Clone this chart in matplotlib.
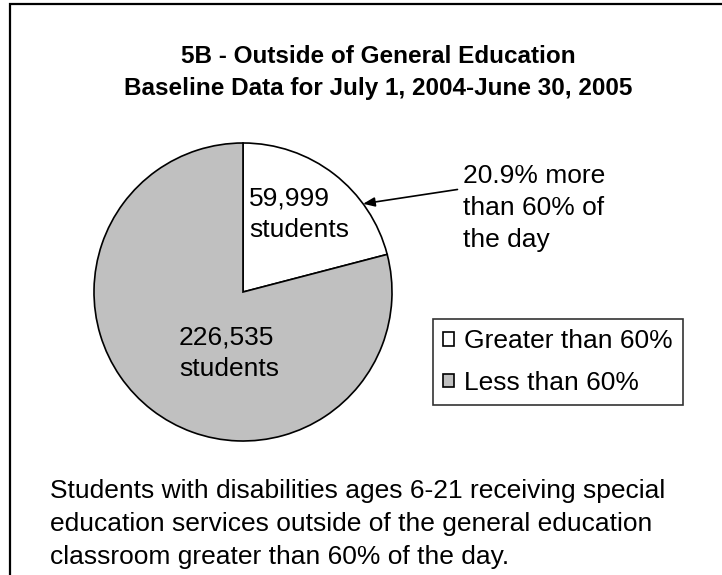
import numpy as np
import matplotlib
matplotlib.use("Agg")
from matplotlib import pyplot as plt
from matplotlib.patches import Rectangle

# data
categories = ["Greater than 60%", "Less than 60%"]
students = [59999, 226535]
colors = ["white", "#C0C0C0"]
slice_labels = ["59,999\nstudents", "226,535\nstudents"]
title_lines = ["5B - Outside of General Education",
               "Baseline Data for July 1, 2004-June 30, 2005"]
callout = "20.9% more\nthan 60% of\nthe day"
footnote = ("Students with disabilities ages 6-21 receiving special\n"
            "education services outside of the general education\n"
            "classroom greater than 60% of the day.")

W, H = 722, 575
plt.rcParams["font.family"] = ["Liberation Sans", "DejaVu Sans"]
FS = 19


def fx(px):
    return px / W


def fy(py):
    return 1 - py / H


def main():
    fig = plt.figure(figsize=(W / 100, H / 100), dpi=100)

    # pie: centre (243, 292) px, radius 149 px; ax limits are +-1.25
    cx, cy, r = 243, 292, 149
    half = r * 1.25
    ax = fig.add_axes([fx(cx - half), fy(cy + half), 2 * half / W, 2 * half / H])
    wedges, _ = ax.pie(students, colors=colors, startangle=90, counterclock=False,
                       wedgeprops=dict(edgecolor="black", linewidth=1.2))
    ax.set_xlim(-1.25, 1.25)
    ax.set_ylim(-1.25, 1.25)

    ax.text(0.04, 0.52, slice_labels[0], ha="left", va="center", fontsize=FS,
            linespacing=1.4)
    ax.text(-0.43, -0.41, slice_labels[1], ha="left", va="center", fontsize=FS,
            linespacing=1.4)

    # call-out arrow pointing at the white slice edge
    ang = np.deg2rad(36.3)
    ax.annotate(callout, xy=(np.cos(ang), np.sin(ang)), xycoords="data",
                xytext=(fx(463), fy(164)), textcoords="figure fraction",
                ha="left", va="top", fontsize=FS, linespacing=1.42,
                arrowprops=dict(arrowstyle="-|>,head_length=0.5,head_width=0.2",
                                color="black", lw=1.2, relpos=(0, 0.72),
                                shrinkA=2, shrinkB=0, mutation_scale=14))

    # title
    fig.text(fx(378), fy(45), "\n".join(title_lines), ha="center", va="top",
             fontsize=17.5, fontweight="bold", linespacing=1.5)

    # legend
    leg = fig.legend(wedges, categories, loc="upper left",
                     bbox_to_anchor=(fx(433), fy(319)), borderaxespad=0,
                     fontsize=FS, handlelength=0.42, handleheight=0.42,
                     handletextpad=0.35, labelspacing=0.67, borderpad=0.39,
                     fancybox=False, frameon=True)
    leg.get_frame().set_edgecolor("black")
    leg.get_frame().set_linewidth(1.2)

    # footnote
    fig.text(fx(50), fy(479), footnote, ha="left", va="top", fontsize=FS,
             linespacing=1.47)

    # outer chart border (runs off the right and bottom edges)
    fig.add_artist(Rectangle((fx(10), -0.1), 1.2, fy(4) + 0.1,
                             transform=fig.transFigure, fill=False,
                             edgecolor="black", linewidth=1.6))

    fig.savefig("out.png", dpi=100)


if __name__ == "__main__":
    main()
